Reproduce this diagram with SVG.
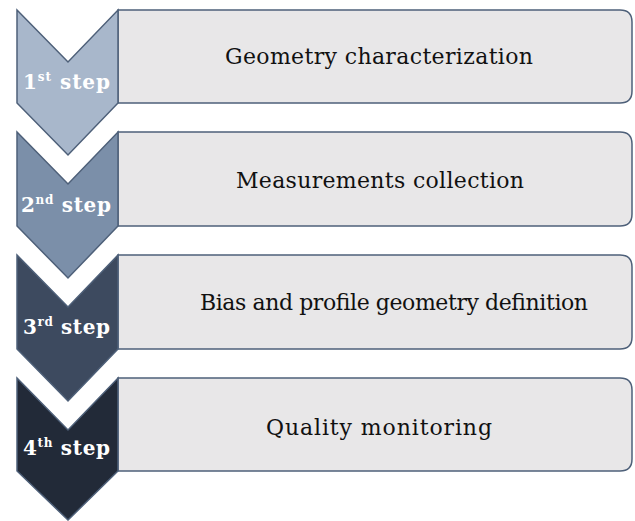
<svg xmlns="http://www.w3.org/2000/svg" width="635" height="521" viewBox="0 0 635 521">
  <style>
    .box { fill: #e8e7e8; stroke: #4e6079; stroke-width: 1.5; }
    .chev { stroke: #4e6079; stroke-width: 1.5; stroke-linejoin: miter; }
    .task { font-family: "DejaVu Serif", "Liberation Serif", serif; font-size: 22px; fill: #111; }
    .step { font-family: "DejaVu Serif", "Liberation Serif", serif; font-size: 20px; font-weight: bold; fill: #ffffff; }
    .sup { font-size: 12px; }
  </style>
  <rect width="635" height="521" fill="#ffffff"/>

  <!-- Step 1 -->
  <g id="step1">
    <path class="box" d="M118,10 H620 Q632,10 632,22 V91 Q632,103 620,103 H118 Z"/>
    <path class="chev" fill="#a8b7cb" d="M17,10 L68,62 L118,10 V103 L68,155 L17,103 Z"/>
    <text class="step" x="23" y="89" textLength="87">1<tspan class="sup" dy="-8">st</tspan><tspan dy="8"> step</tspan></text>
    <text class="task" x="225" y="64" textLength="308">Geometry characterization</text>
  </g>

  <!-- Step 2 -->
  <g id="step2">
    <path class="box" d="M118,132 H620 Q632,132 632,144 V214 Q632,226 620,226 H118 Z"/>
    <path class="chev" fill="#7b8fa9" d="M17,132 L68,184 L118,132 V226 L68,278 L17,226 Z"/>
    <text class="step" x="21" y="212" textLength="90">2<tspan class="sup" dy="-8">nd</tspan><tspan dy="8"> step</tspan></text>
    <text class="task" x="236" y="188" textLength="288">Measurements collection</text>
  </g>

  <!-- Step 3 -->
  <g id="step3">
    <path class="box" d="M118,255 H620 Q632,255 632,267 V337 Q632,349 620,349 H118 Z"/>
    <path class="chev" fill="#3d4a5f" d="M17,255 L68,307 L118,255 V349 L68,401 L17,349 Z"/>
    <text class="step" x="23" y="334" textLength="87">3<tspan class="sup" dy="-8">rd</tspan><tspan dy="8"> step</tspan></text>
    <text class="task" x="200" y="310" textLength="388">Bias and profile geometry definition</text>
  </g>

  <!-- Step 4 -->
  <g id="step4">
    <path class="box" d="M118,378 H620 Q632,378 632,390 V459 Q632,471 620,471 H118 Z"/>
    <path class="chev" fill="#222a38" d="M17,378 L68,430 L118,378 V471 L68,520 L17,471 Z"/>
    <text class="step" x="23" y="455" textLength="87">4<tspan class="sup" dy="-8">th</tspan><tspan dy="8"> step</tspan></text>
    <text class="task" x="266" y="435" textLength="226">Quality monitoring</text>
  </g>

  <g id="connectors"/>
</svg>
